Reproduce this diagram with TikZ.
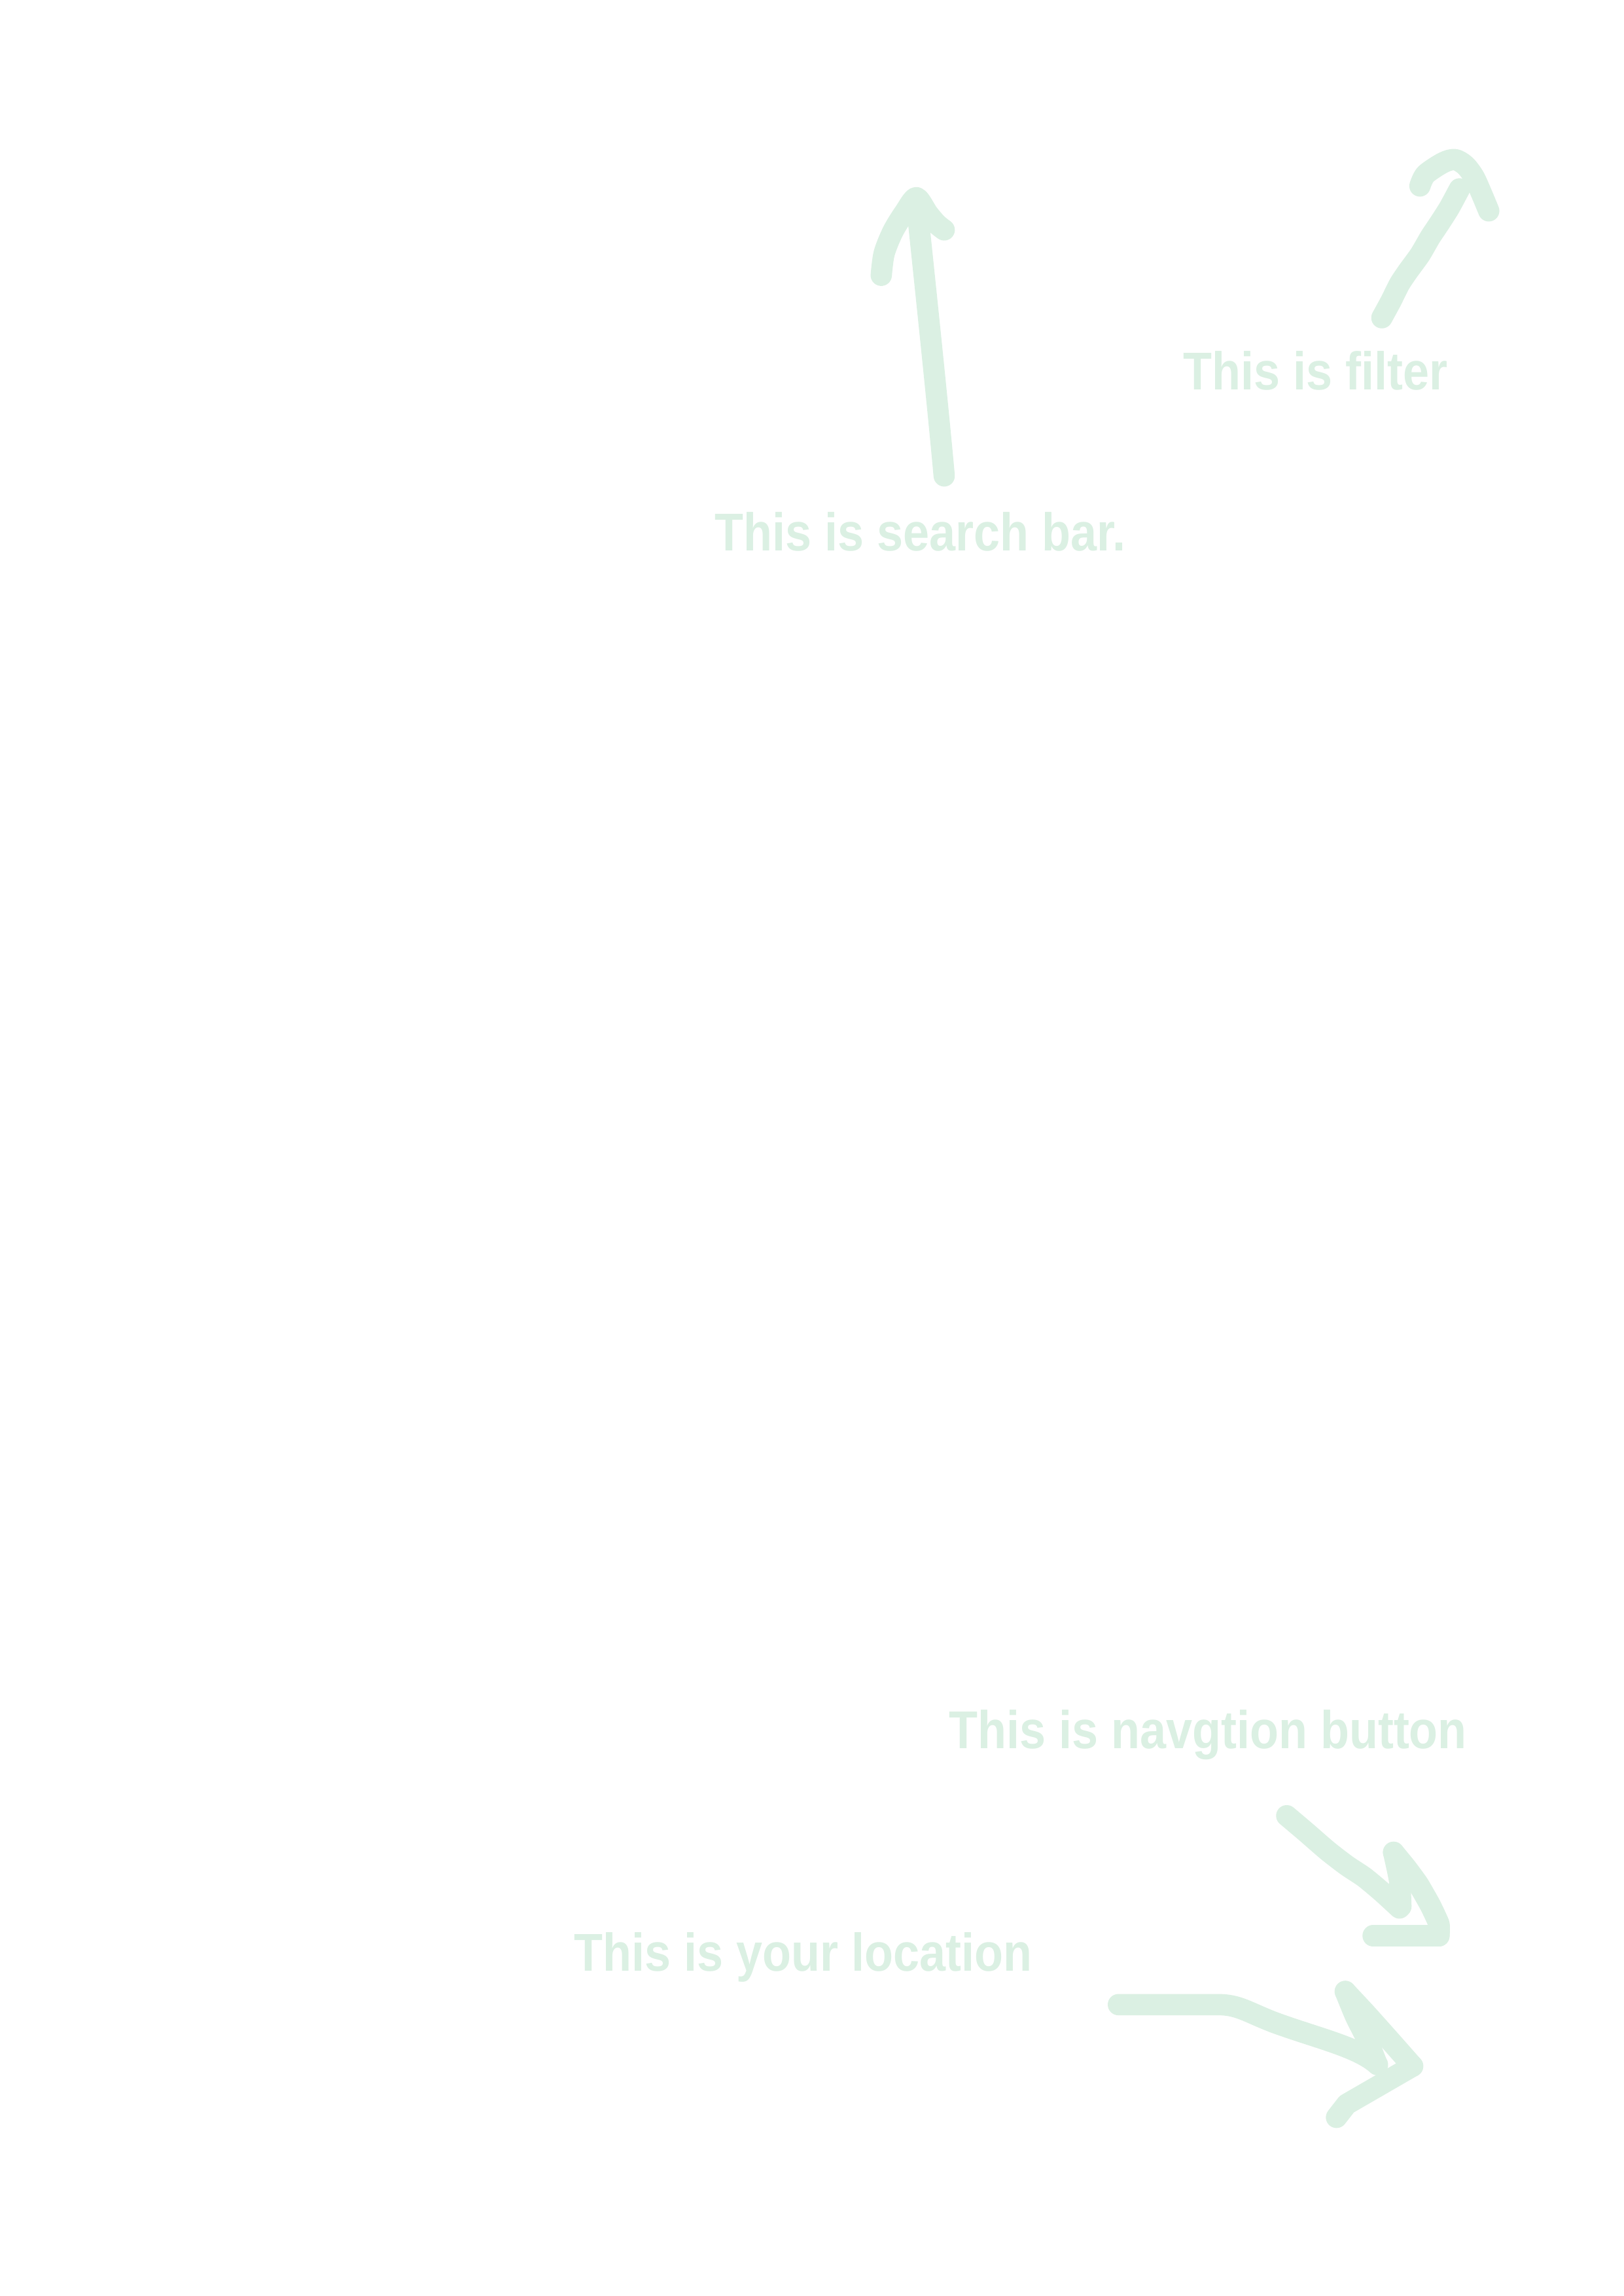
\documentclass[tikz,border=0pt]{standalone}
\usepackage{fontspec}
\setmainfont{Liberation Sans}[FakeStretch=0.885]
\definecolor{mint}{RGB}{219,240,227}
\begin{document}
\begin{tikzpicture}[x=0.5367pt,y=-0.5367pt,
  note/.style={inner sep=0pt,anchor=base west,text=mint,font=\fontsize{19.5}{23}\selectfont\bfseries},
  stroke/.style={draw=mint,line width=7.8pt,line cap=round,line join=round}]
\fill[white] (0,0) rectangle (1109,1568);
\useasboundingbox (0,0) rectangle (1109,1568);
% texts
\node[note] (search) at (488,376) {This is search bar.};
\node[note] (filter) at (808,266) {This is filter};
\node[note] (nav) at (648,1194) {This is navgtion button};
\node[note] (loc) at (392,1346) {This is your location};
% search bar arrow
\draw[stroke] (645,325) .. controls (640,270) and (632,195) .. (626,137);
\draw[stroke] plot[smooth,tension=0.5] coordinates {(602,188) (604,173) (610,158) (618,145) (626,135) (634,146) (640,153) (645,157)};
% filter arrow
\draw[stroke] plot[smooth,tension=0.4] coordinates {(944,217) (950,206) (956,194) (962,185) (970,174) (977,162) (983,153) (990,142) (997,129)};
\draw[stroke] plot[smooth,tension=0.5] coordinates {(970,127) (974,119) (986,111) (994,109) (1001,113) (1007,121) (1012,132) (1017,144)};
% navigation arrow
\draw[stroke] plot[smooth,tension=0.4] coordinates {(879,1240) (892,1251) (907,1264) (920,1274) (932,1282) (944,1292) (956,1303)};
\draw[stroke] plot[smooth,tension=0.4] coordinates {(952,1265) (956,1284) (957,1302)};
\draw[stroke] plot[smooth,tension=0.3] coordinates {(952,1265) (961,1276) (969,1287) (977,1301) (983,1314) (983,1322)};
\draw[stroke] (983,1322) -- (956,1322) -- (938,1322);
% location arrow
\draw[stroke] (764,1369) -- (832,1369) .. controls (846,1369) and (852,1374) .. (870,1381) .. controls (900,1392) and (928,1398) .. (941,1410);
\draw[stroke] plot[smooth,tension=0.4] coordinates {(919,1360) (926,1377) (934,1393) (940,1408)};
\draw[stroke] plot[smooth,tension=0.3] coordinates {(919,1360) (933,1375) (950,1394) (965,1411)};
\draw[stroke] (965,1411) -- (920,1437) -- (913,1446);
\end{tikzpicture}
\end{document}
